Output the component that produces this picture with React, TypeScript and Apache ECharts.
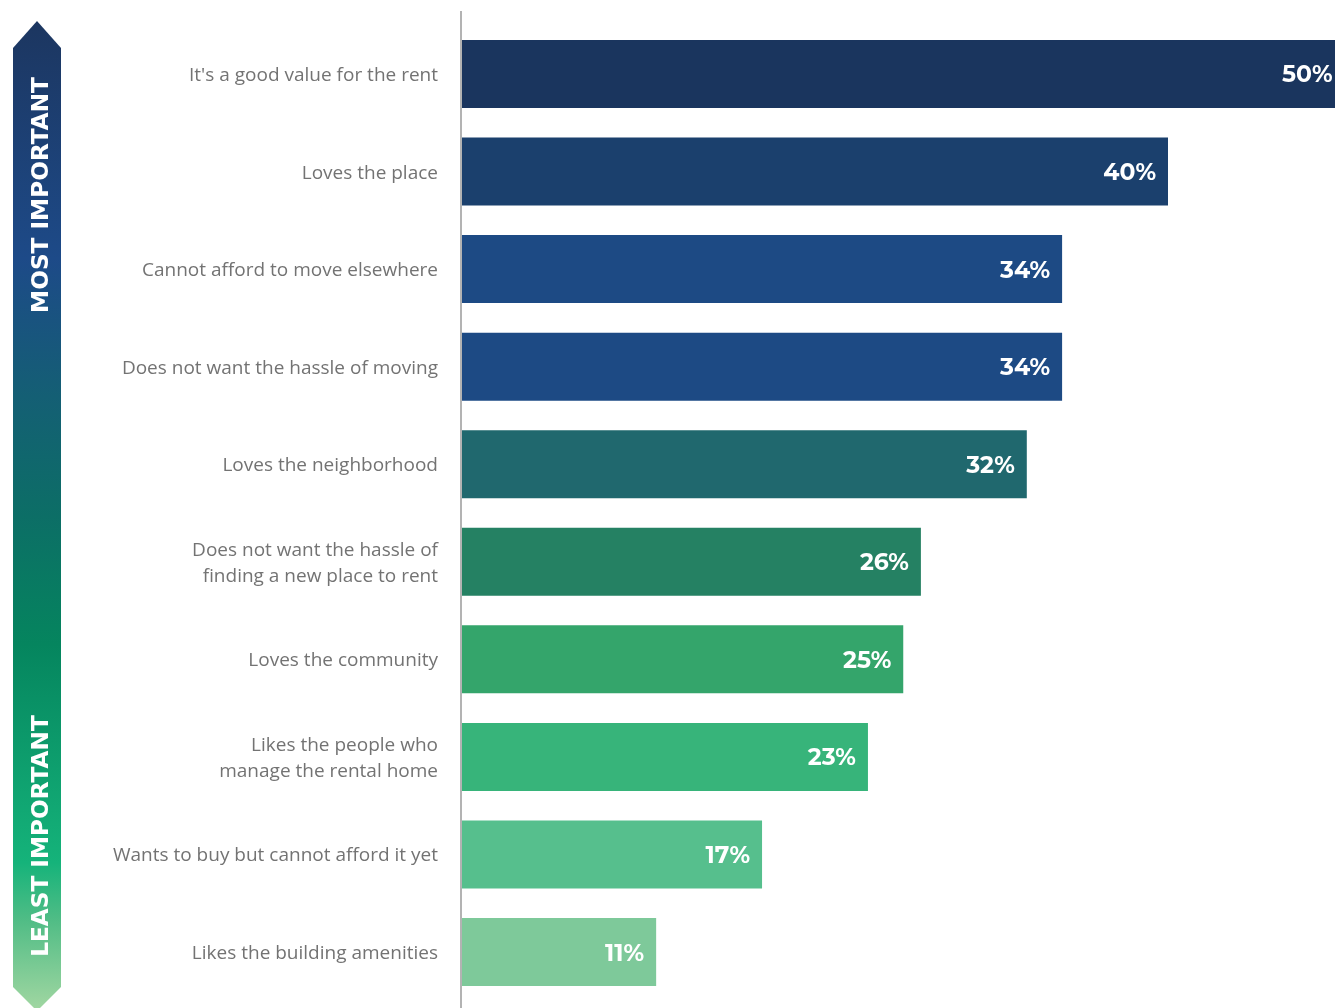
import React, { useEffect, useRef } from "react";
import * as echarts from "echarts";

const categories = [
  "It's a good value for the rent",
  "Loves the place",
  "Cannot afford to move elsewhere",
  "Does not want the hassle of moving",
  "Loves the neighborhood",
  "Does not want the hassle of\nfinding a new place to rent",
  "Loves the community",
  "Likes the people who\nmanage the rental home",
  "Wants to buy but cannot afford it yet",
  "Likes the building amenities",
];
const values = [50, 40, 34, 34, 32, 26, 25, 23, 17, 11];
const barColors = [
  "#1a355e",
  "#1b406d",
  "#1d4a84",
  "#1d4a84",
  "#20686e",
  "#258163",
  "#34a56b",
  "#37b47a",
  "#56bf8d",
  "#7ec99a",
];
const arrowTop = "MOST IMPORTANT";
const arrowBottom = "LEAST IMPORTANT";

export default function App() {
  const ref = useRef<HTMLDivElement>(null);
  useEffect(() => {
    if (!ref.current) return;
    const chart = echarts.init(ref.current, null, { renderer: "svg" });
    const band = 97.56;
    const gridTop = 25.2;
    chart.setOption({
      animation: false,
      grid: { left: 462, top: gridTop, width: 882.5, height: band * categories.length },
      xAxis: {
        type: "value",
        min: 0,
        max: 50,
        show: false,
      },
      yAxis: {
        type: "category",
        data: categories,
        inverse: true,
        axisLine: { show: false },
        axisTick: { show: false },
        axisLabel: {
          margin: 24,
          color: "#737373",
          fontSize: 19,
          fontFamily: "Open Sans",
          lineHeight: 26,
          align: "right",
        },
      },
      series: [
        {
          type: "bar",
          barWidth: 68,
          data: values.map((v, i) => ({ value: v, itemStyle: { color: barColors[i] } })),
          label: {
            show: true,
            position: "insideRight",
            distance: 12,
            formatter: "{c}%",
            color: "#ffffff",
            fontSize: 23.5,
            fontWeight: "bold",
            fontFamily: "Montserrat, 'DejaVu Sans', sans-serif",
          },
        },
      ],
      graphic: [
        {
          type: "line",
          shape: { x1: 461, y1: 11, x2: 461, y2: 1010 },
          style: { stroke: "#b3b3b3", lineWidth: 2 },
          z: 10,
        },
        {
          type: "polygon",
          shape: {
            points: [
              [13, 48],
              [37, 21],
              [61, 48],
              [61, 987],
              [37, 1011],
              [13, 987],
            ],
          },
          style: {
            fill: new echarts.graphic.LinearGradient(0, 0, 0, 1, [
              { offset: 0, color: "#1c3660" },
              { offset: 0.24, color: "#1d4a88" },
              { offset: 0.38, color: "#145f74" },
              { offset: 0.5, color: "#0c6e66" },
              { offset: 0.63, color: "#05855e" },
              { offset: 0.85, color: "#15b37a" },
              { offset: 0.91, color: "#52bd86" },
              { offset: 1, color: "#a2d7a2" },
            ]),
          },
        },
        {
          type: "text",
          x: 39,
          y: 195,
          rotation: Math.PI / 2,
          style: {
            text: arrowTop,
            fill: "#ffffff",
            fontSize: 23.2,
            fontWeight: "bold",
            fontFamily: "'DejaVu Sans', sans-serif",
            textAlign: "center",
            textVerticalAlign: "middle",
          },
        },
        {
          type: "text",
          x: 39,
          y: 836,
          rotation: Math.PI / 2,
          style: {
            text: arrowBottom,
            fill: "#ffffff",
            fontSize: 23.2,
            fontWeight: "bold",
            fontFamily: "'DejaVu Sans', sans-serif",
            textAlign: "center",
            textVerticalAlign: "middle",
          },
        },
      ],
    });
    return () => chart.dispose();
  }, []);
  return (
    <div
      ref={ref}
      style={{ position: "fixed", left: 0, top: 0, width: 1360, height: 1008 }}
    />
  );
}
